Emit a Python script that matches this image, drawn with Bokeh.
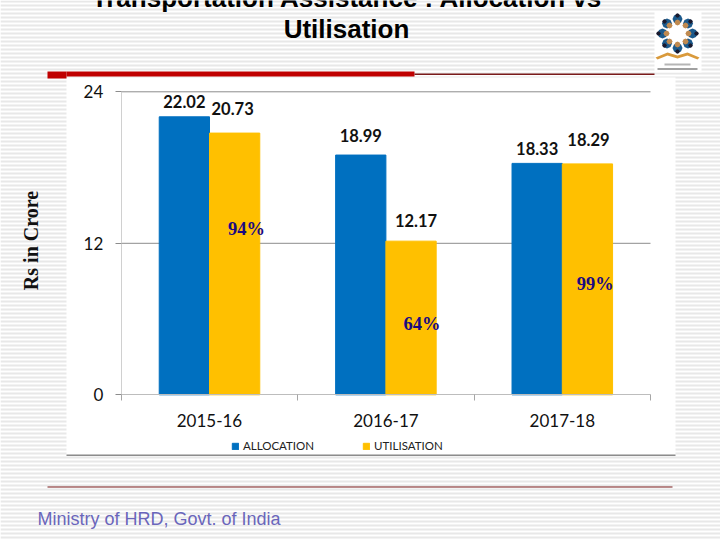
from bokeh.plotting import figure
from bokeh.models import (Range1d, FixedTicker, BoxAnnotation, Label, Legend, LegendItem,
                          PolyAnnotation, LinearAxis)
from bokeh.embed import file_html
from bokeh.resources import INLINE

categories = ["2015-16", "2016-17", "2017-18"]
allocation = [22.02, 18.99, 18.33]
utilisation = [20.73, 12.17, 18.29]
percent_labels = ["94%", "64%", "99%"]
y_ticks = [0, 12, 24]
title_lines = ["Transportation Assistance : Allocation vs", "Utilisation"]
footer = "Ministry of HRD, Govt. of India"
y_title = "Rs in Crore"

BLUE, YELLOW = "#0070C0", "#FFC000"
W, H = 720, 540
L, R, T, B = 120.8, 650, 91.3, 394.3  # where the axis extents fall on the canvas
sx = (R - L) / len(categories)
sy = (B - T) / y_ticks[-1]

p = figure(width=W, height=H, output_backend="svg", toolbar_location=None,
           x_range=Range1d(-L / sx, (W - L) / sx), y_range=Range1d(-(H - B) / sy, y_ticks[-1] + T / sy),
           min_border=0, x_axis_location=None, y_axis_location=None,
           background_fill_color="white", border_fill_color="white", outline_line_color=None,
           margin=0)
p.grid.visible = False


def box(x0, y0, x1, y1, color, level="image"):
    p.add_layout(BoxAnnotation(left=x0, right=x1, top=H - y0, bottom=H - y1,
                               left_units="screen", right_units="screen",
                               top_units="screen", bottom_units="screen",
                               fill_color=color, fill_alpha=1, line_color=None, level=level,
                               editable=False))


def text(x, y, s, size, color="black", font="Liberation Sans", style="normal", align="left", base="middle"):
    p.add_layout(Label(x=x, y=H - y, x_units="screen", y_units="screen", text=s,
                       text_font=font, text_font_size=f"{size}px", text_color=color,
                       text_font_style=style, text_align=align, text_baseline=base))


# striped slide background
for yy in range(0, H, 4):
    box(0, yy, W, yy + 2, "#e8e8e8")
# chart panel and slide rules
box(66, 77, 675, 454, "white")
box(66, 454, 675, 455.5, "#8c8c8c")
box(47, 71, 66, 78, "#c00000")
box(66, 71, 414, 76, "#c00000")
box(414, 73, 654, 74.5, "#7a1a1a")
box(47, 486, 672, 487, "#7a1a1a")

# logo
box(654, 11, 701, 72, "white")
ring = [(677, 15), (690, 21), (696, 33), (690, 45), (677, 51), (664, 45), (658, 33), (664, 21)]
inner = [(677, 22), (685, 25), (688, 33), (685, 41), (677, 44), (669, 41), (666, 33), (669, 25)]


def poly(xs, ys, color):
    p.add_layout(PolyAnnotation(xs=xs, ys=[H - b for b in ys], xs_units="screen", ys_units="screen",
                                fill_color=color, fill_alpha=1, line_color=None, level="image",
                                editable=False))


def dot(cx, cy, r, color):
    d = r * 0.7
    pts = [(cx - r, cy), (cx - d, cy - d), (cx, cy - r), (cx + d, cy - d),
           (cx + r, cy), (cx + d, cy + d), (cx, cy + r), (cx - d, cy + d)]
    poly([a for a, _ in pts], [b for _, b in pts], color)


for (a, b), (c, d) in zip(ring, inner):
    dot((a + c) / 2, (b + d) / 2, 5, "#1c5a8c")
dot(677, 33, 9, "white")
for a, b in ring:
    dot(a, b, 2.2, "#1a1a2e")
for c, d in inner:
    dot(c, d, 3, "#c08a50")
poly([655, 667, 677, 687, 699, 697, 687, 677, 667, 657],
     [57, 52, 55, 52, 57, 59, 55, 58, 55, 59], "#d99a3c")
box(664, 63, 690, 65, "#b5b5b5")
box(657, 67.5, 697, 69.5, "#a0a0a0")

# gridlines
for t in y_ticks[1:]:
    p.segment(x0=[0], x1=[len(categories)], y0=[t], y1=[t], line_color="#8c8c8c", line_width=1, level="underlay")

# bars
centers = [i + 0.5 for i in range(len(categories))]
bw = 0.285
r_a = p.vbar(x=[c - bw / 2 for c in centers], top=allocation, width=bw, color=BLUE)
r_u = p.vbar(x=[c + bw / 2 for c in centers], top=utilisation, width=bw, color=YELLOW)

# axes
xa = LinearAxis(fixed_location=0, bounds=(0, len(categories)))
xa.ticker = FixedTicker(ticks=centers, minor_ticks=list(range(len(categories) + 1)))
xa.major_label_overrides = {c: n for c, n in zip(centers, categories)}
xa.major_tick_line_color = None
xa.minor_tick_in, xa.minor_tick_out = 0, 6
xa.minor_tick_line_color = "#a6a6a6"
xa.axis_line_color = "#bdbdbd"
xa.major_label_standoff = 13
xa.major_label_text_font = "Lato"
xa.major_label_text_font_size = "17px"
xa.major_label_text_color = "#111111"
p.add_layout(xa, "below")

ya = LinearAxis(fixed_location=0, bounds=(0, y_ticks[-1]))
ya.ticker = FixedTicker(ticks=y_ticks)
ya.minor_tick_line_color = None
ya.major_tick_in, ya.major_tick_out = 0, 6
ya.major_tick_line_color = "#8c8c8c"
ya.axis_line_color = "#d0d0d0"
ya.major_label_standoff = 12
ya.major_label_text_font = "Lato"
ya.major_label_text_font_size = "17px"
ya.major_label_text_color = "#111111"
p.add_layout(ya, "left")

# value labels: offsets from each bar's top-centre, in pixels
val_off_a = [(0, 15), (0, 20), (0, 15)]
val_off_u = [(-2, 25), (5, 21), (1, 24)]
for series, sign, offs in ((allocation, -1, val_off_a), (utilisation, 1, val_off_u)):
    for c, v, (dx, dy) in zip(centers, series, offs):
        p.add_layout(Label(x=c + sign * bw / 2, y=v, text=f"{v:.2f}", x_offset=dx, y_offset=dy,
                           text_align="center", text_baseline="middle", text_font="Lato",
                           text_font_style="bold", text_font_size="16.5px", text_color="#111111"))
pct_off = [(37, -96), (36, -83), (33, -120)]
for c, v, s, (dx, dy) in zip(centers, utilisation, percent_labels, pct_off):
    p.add_layout(Label(x=c, y=v, text=s, x_offset=dx, y_offset=dy, text_align="center",
                       text_baseline="middle", text_font="Liberation Serif", text_font_style="bold",
                       text_font_size="18.5px", text_color="#1a0a80"))

# legend
legend = Legend(items=[LegendItem(label="ALLOCATION", renderers=[r_a]),
                       LegendItem(label="UTILISATION", renderers=[r_u])],
                orientation="horizontal", location=(231, H - 452), glyph_width=8, glyph_height=8,
                label_standoff=4, spacing=48, padding=0, margin=0, border_line_color=None,
                background_fill_alpha=0, label_text_font="Lato", label_text_font_size="11.5px",
                label_text_color="#222222", label_height=12)
p.add_layout(legend, "center")

# slide text
text(347, -3, title_lines[0], 26, style="bold", align="center")
text(346, 28.5, title_lines[1], 26, style="bold", align="center")
text(37, 518, footer, 18, color="#6a66bb")
p.add_layout(Label(x=30, y=H - 240, x_units="screen", y_units="screen", text=y_title, angle=90,
                   angle_units="deg", text_align="center", text_baseline="middle",
                   text_font="Liberation Serif", text_font_style="bold", text_font_size="20px",
                   text_color="#111111"))

open("out.html", "w").write(file_html(p, INLINE))
